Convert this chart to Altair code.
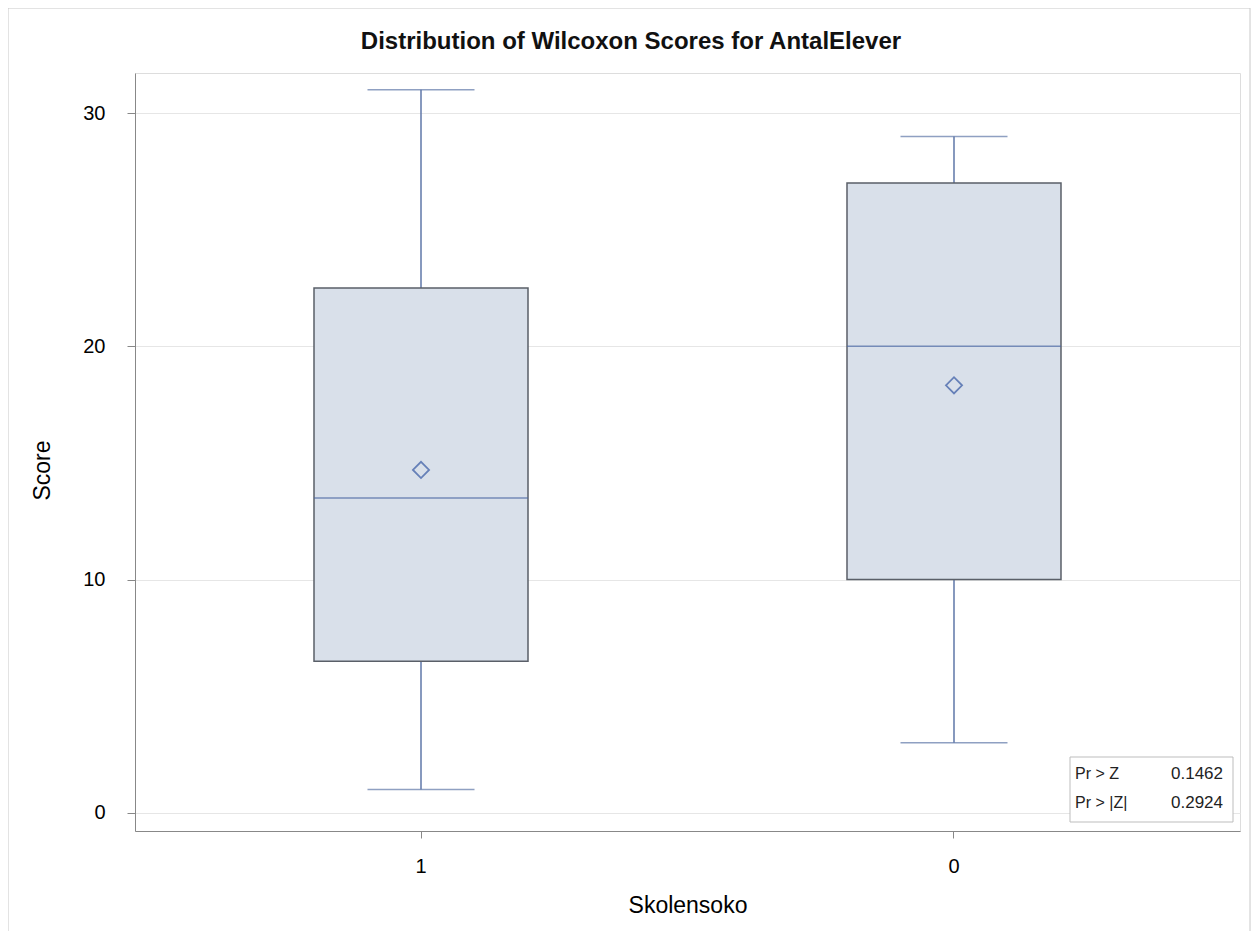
import altair as alt
import pandas as pd

# ---- data ----
groups = ["1", "0"]
q1 = [6.5, 10.0]
medians = [13.5, 20.0]
q3 = [22.5, 27.0]
whisker_low = [1.0, 3.0]
whisker_high = [31.0, 29.0]
means = [14.7, 18.33]

stat_labels = ["Pr > Z", "Pr > |Z|"]
stat_values = ["0.1462", "0.2924"]

title_text = "Distribution of Wilcoxon Scores for AntalElever"

df = pd.DataFrame({
    "group": groups,
    "q1": q1,
    "median": medians,
    "q3": q3,
    "lo": whisker_low,
    "hi": whisker_high,
    "mean": means,
})

W, H = 1105, 758
FONT = "Liberation Sans"
BOX_W = 214
CAP_W = 107
WHISK = "#5f77a8"
MED = "#4a67a3"
BOX_FILL = "#d9e0ea"
BOX_STROKE = "#5a5f68"

x_enc = alt.X(
    "group:N",
    sort=groups,
    scale=alt.Scale(domain=groups, paddingInner=0, paddingOuter=0.0366),
    axis=alt.Axis(
        title="Skolensoko", labelAngle=0, labelFontSize=20, titleFontSize=23,
        titleFontWeight="normal", tickSize=7, labelPadding=18, titlePadding=18,
        ticks=True, grid=False,
    ),
)
y_scale = alt.Scale(domain=[-0.78, 31.72], nice=False, zero=False)
y_axis = alt.Axis(
    title="Score", values=[0, 10, 20, 30], labelFontSize=20, titleFontSize=23,
    titleFontWeight="normal", tickSize=8, labelPadding=22, titlePadding=28,
    titleY=397, grid=True, gridColor="#e6e6e6",
)

base = alt.Chart(df)

whisk_low = base.mark_rule(color=WHISK, strokeWidth=1.5).encode(
    x=x_enc, y=alt.Y("lo:Q", scale=y_scale, axis=y_axis), y2="q1:Q")
whisk_high = base.mark_rule(color=WHISK, strokeWidth=1.5).encode(
    x=x_enc, y=alt.Y("q3:Q", scale=y_scale), y2="hi:Q")
cap_low = base.mark_tick(color=WHISK, size=CAP_W, thickness=1.5).encode(
    x=x_enc, y=alt.Y("lo:Q", scale=y_scale))
cap_high = base.mark_tick(color=WHISK, size=CAP_W, thickness=1.5).encode(
    x=x_enc, y=alt.Y("hi:Q", scale=y_scale))
box = base.mark_bar(size=BOX_W, fill=BOX_FILL, stroke=BOX_STROKE, strokeWidth=1.5).encode(
    x=x_enc, y=alt.Y("q1:Q", scale=y_scale), y2="q3:Q")
median = base.mark_tick(color=MED, size=BOX_W, thickness=1.5).encode(
    x=x_enc, y=alt.Y("median:Q", scale=y_scale))
mean_pt = base.mark_point(shape="diamond", size=260, filled=False, color="#6680b8",
                          strokeWidth=1.8, opacity=1).encode(
    x=x_enc, y=alt.Y("mean:Q", scale=y_scale))

one = alt.Data(values=[{}])
inset_box = alt.Chart(one).mark_rect(fill="white", stroke="#bdbdbd", strokeWidth=1).encode(
    x=alt.value(935), x2=alt.value(1098), y=alt.value(684), y2=alt.value(749))

stats = pd.DataFrame({"label": stat_labels, "value": stat_values, "row": [0, 1]})
stat_layers = []
for i in range(len(stat_labels)):
    row = alt.Chart(stats).transform_filter(alt.datum.row == i)
    stat_layers.append(row.mark_text(align="left", baseline="middle", fontSize=16,
                                     font=FONT, color="#222").encode(
        text="label:N", x=alt.value(940), y=alt.value(701 + 29 * i)))
    stat_layers.append(row.mark_text(align="right", baseline="middle", fontSize=17,
                                     font=FONT, color="#222").encode(
        text="value:N", x=alt.value(1088), y=alt.value(701 + 29 * i)))

title_mark = alt.Chart(pd.DataFrame({"t": [title_text]})).mark_text(
    align="center", baseline="middle", fontSize=24, font=FONT, fontWeight="bold",
    color="#111").encode(text="t:N", x=alt.value(496), y=alt.value(-31))

outer = alt.Chart(one).mark_rect(fill="transparent", stroke="#c8c8c8", strokeWidth=1).encode(
    x=alt.value(-127), x2=alt.value(1115), y=alt.value(-65), y2=alt.value(866))

chart = alt.layer(
    whisk_low, whisk_high, cap_low, cap_high, box, median, mean_pt,
    inset_box, *stat_layers, title_mark, outer,
).properties(
    width=W, height=H,
    padding={"left": 127, "top": 65, "right": 12, "bottom": 100},
    autosize=alt.AutoSizeParams(type="none"),
).configure_view(stroke="#9a9a9a", strokeWidth=1).configure_axis(
    labelFont=FONT, titleFont=FONT, titleFontWeight="normal", labelColor="#222",
    titleColor="#222", domainColor="#9a9a9a", tickColor="#9a9a9a",
).configure(background="white")

chart.save("out.html", embed_options={"renderer": "svg", "actions": False})
